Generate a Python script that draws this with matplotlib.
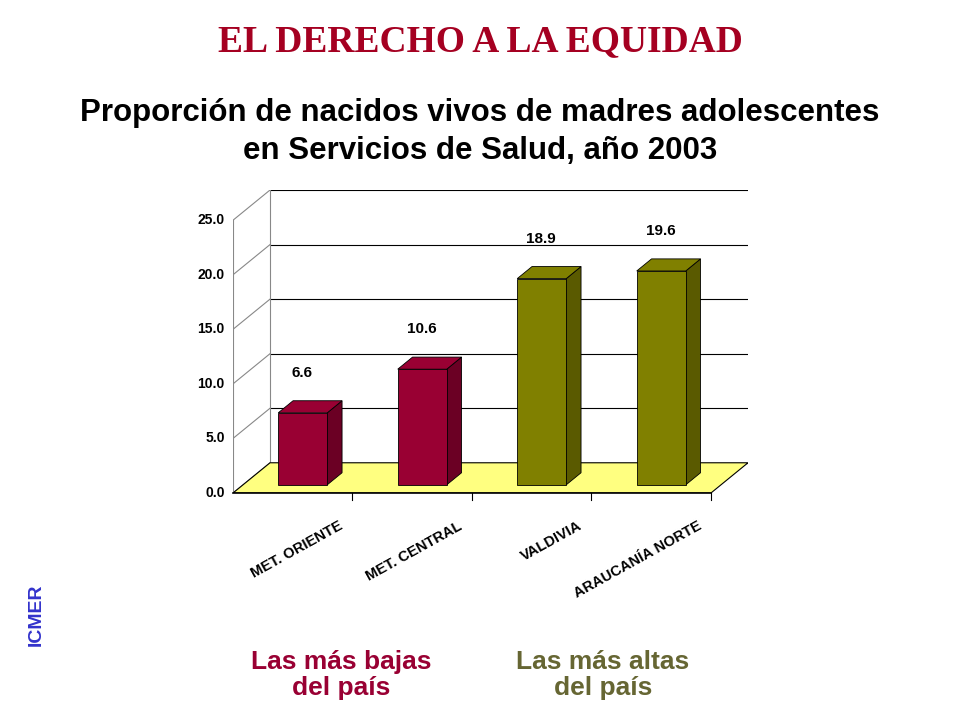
import matplotlib
matplotlib.use("Agg")
import matplotlib.pyplot as plt
from matplotlib.patches import Polygon

categories = ["MET. ORIENTE", "MET. CENTRAL", "VALDIVIA", "ARAUCANÍA NORTE"]
values = [6.6, 10.6, 18.9, 19.6]
bar_colors = ["#990033", "#990033", "#808000", "#808000"]
side_colors = ["#6b0024", "#6b0024", "#5a5a00", "#5a5a00"]
yticks = [0, 5, 10, 15, 20, 25]

W, H = 960, 720
fig = plt.figure(figsize=(9.6, 7.2), dpi=100)
fig.patch.set_facecolor("white")

x0, x1, ytop, ybot = 233, 748, 190, 493
ax = fig.add_axes([x0 / W, 1 - ybot / H, (x1 - x0) / W, (ybot - ytop) / H])
DX, DY = 0.31, 2.77
ax.set_xlim(0, 4 + DX)
ax.set_ylim(0, 25 + DY)
ax.axis("off")

ax.add_patch(Polygon([(0, 0), (4, 0), (4 + DX, DY), (DX, DY)], closed=True,
                     facecolor="#FFFF80", edgecolor="black", lw=0.8, zorder=1))
for t in yticks:
    ax.plot([DX, 4 + DX], [t + DY, t + DY], color="black", lw=0.8, zorder=0.5)
    ax.plot([0, DX], [t, t + DY], color="#888888", lw=0.8, zorder=0.5)
    ax.text(-0.07, t, f"{t:.1f}", ha="right", va="center", fontsize=10,
            fontweight="bold", family="Liberation Sans")
ax.plot([DX, DX], [DY, 25 + DY], color="#888888", lw=0.8, zorder=0.5)
ax.plot([0, 0], [0, 25], color="#888888", lw=0.8, zorder=0.5)
ax.plot([0, 4], [0, 0], color="black", lw=1.2, zorder=5, clip_on=False)
for i in range(1, 5):
    ax.plot([i, i], [0, -0.6], color="black", lw=0.8, clip_on=False)

d0, d1, bw = 0.27, 0.67, 0.41
for i, (v, c, sc) in enumerate(zip(values, bar_colors, side_colors)):
    cx = i + 0.5
    fx0, fx1 = cx - bw / 2 + d0 * DX, cx + bw / 2 + d0 * DX
    fy = d0 * DY
    ox, oy = (d1 - d0) * DX, (d1 - d0) * DY
    ax.add_patch(Polygon([(fx1, fy), (fx1 + ox, fy + oy), (fx1 + ox, fy + oy + v), (fx1, fy + v)],
                         facecolor=sc, edgecolor="black", lw=0.6, zorder=3))
    ax.add_patch(Polygon([(fx0, fy + v), (fx1, fy + v), (fx1 + ox, fy + oy + v), (fx0 + ox, fy + oy + v)],
                         facecolor=c, edgecolor="black", lw=0.6, zorder=3))
    ax.add_patch(Polygon([(fx0, fy), (fx1, fy), (fx1, fy + v), (fx0, fy + v)],
                         facecolor=c, edgecolor="black", lw=0.6, zorder=4))
    ax.text(cx + 0.08, v + 4.4, f"{v:.1f}", ha="center", va="center", fontsize=11,
            fontweight="bold", family="Liberation Sans")
    ax.text(i + 0.94, -3.5, categories[i], ha="right", va="bottom", rotation=29,
            rotation_mode="anchor", fontsize=10.5, fontweight="bold", family="Liberation Sans")

fig.text(0.5, 1 - 42 / H, "EL DERECHO A LA EQUIDAD", ha="center", va="center",
         fontsize=27, fontweight="bold", family="Liberation Serif", color="#A50021")
fig.text(0.5, 1 - 132 / H, "Proporción de nacidos vivos de madres adolescentes\nen Servicios de Salud, año 2003",
         ha="center", va="center", fontsize=22.5, fontweight="bold", family="Liberation Sans",
         linespacing=1.35)
fig.text(36 / W, 1 - 615 / H, "ICMER", rotation=90, ha="center", va="center", fontsize=14,
         fontweight="bold", family="Liberation Sans", color="#3333CC")
fig.text(341 / W, 1 - 675 / H, "Las más bajas\ndel país", ha="center", va="center", fontsize=19,
         fontweight="bold", family="Liberation Sans", color="#990033", linespacing=1.15)
fig.text(603 / W, 1 - 675 / H, "Las más altas\ndel país", ha="center", va="center", fontsize=19,
         fontweight="bold", family="Liberation Sans", color="#666633", linespacing=1.15)

fig.savefig("out.png", dpi=100)
